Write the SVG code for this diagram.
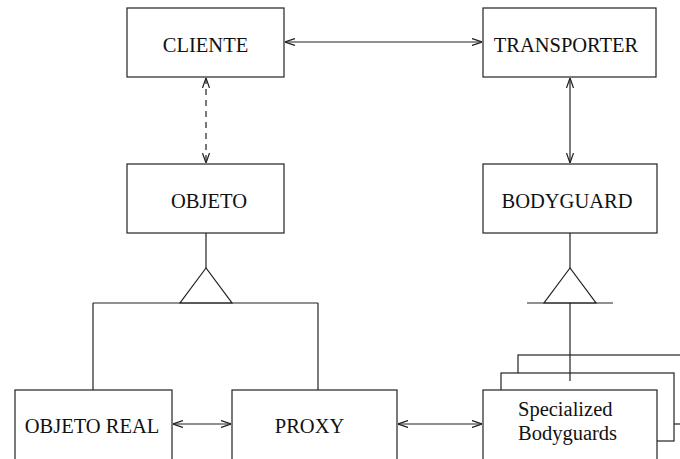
<svg xmlns="http://www.w3.org/2000/svg" width="680" height="459" viewBox="0 0 680 459">
  <style>
    .box { fill: #fff; stroke: #222; stroke-width: 1.2; }
    .lbl { font-family: "Liberation Serif", "Times New Roman", serif; font-size: 20.5px; fill: #111; }
    .ln { fill: none; stroke: #222; stroke-width: 1.2; }
    .dash { stroke-dasharray: 6 5; }
    .arr { marker-start: url(#head); marker-end: url(#head); }
  </style>
  <defs>
    <marker id="head" viewBox="0 0 10 8" refX="10" refY="4" markerWidth="10" markerHeight="8" markerUnits="userSpaceOnUse" orient="auto-start-reverse">
      <path d="M0,0.5 L10,4 L0,7.5" fill="none" stroke="#222" stroke-width="1.2"/>
    </marker>
  </defs>

  <rect width="680" height="459" fill="#fff"/>

  <!-- connectors -->
  <g id="connectors">
    <line class="ln arr" x1="285" y1="42" x2="482" y2="42"/>
    <line class="ln arr dash" x1="206" y1="78" x2="206" y2="163"/>
    <line class="ln arr" x1="570" y1="78" x2="570" y2="163"/>
    <!-- generalisation OBJETO -->
    <line class="ln" x1="206" y1="233" x2="206" y2="268"/>
    <polygon class="ln" points="206,268 180,303 232,303"/>
    <line class="ln" x1="93" y1="303" x2="318" y2="303"/>
    <line class="ln" x1="93" y1="303" x2="93" y2="390"/>
    <line class="ln" x1="318" y1="303" x2="318" y2="390"/>
    <!-- generalisation BODYGUARD -->
    <line class="ln" x1="570" y1="233" x2="570" y2="268"/>
    <polygon class="ln" points="570,268 544,303 596,303"/>
    <line class="ln" x1="527" y1="303" x2="613" y2="303"/>
    <line class="ln arr" x1="173" y1="424" x2="231" y2="424"/>
    <line class="ln arr" x1="398" y1="424" x2="482" y2="424"/>
  </g>

  <g id="cliente">
    <rect class="box" x="127" y="8" width="157" height="69"/>
    <text class="lbl" x="205.5" y="52" text-anchor="middle">CLIENTE</text>
  </g>
  <g id="transporter">
    <rect class="box" x="483" y="8" width="173" height="69"/>
    <text class="lbl" x="566" y="52" text-anchor="middle">TRANSPORTER</text>
  </g>
  <g id="objeto">
    <rect class="box" x="127" y="164" width="157" height="69"/>
    <text class="lbl" x="209" y="208" text-anchor="middle">OBJETO</text>
  </g>
  <g id="bodyguard">
    <rect class="box" x="483" y="164" width="174" height="69"/>
    <text class="lbl" x="567" y="208" text-anchor="middle">BODYGUARD</text>
  </g>
  <g id="objeto-real">
    <rect class="box" x="15" y="390" width="157" height="80"/>
    <text class="lbl" x="92" y="433" text-anchor="middle">OBJETO REAL</text>
  </g>
  <g id="proxy">
    <rect class="box" x="232" y="390" width="165" height="80"/>
    <text class="lbl" x="309.5" y="433" text-anchor="middle">PROXY</text>
  </g>
  <g id="specialized-bodyguards">
    <rect class="box" x="518" y="355" width="180" height="69"/>
    <rect class="box" x="501" y="373" width="173" height="68"/>
    <line class="ln" x1="570" y1="303" x2="570" y2="381"/>
    <rect class="box" x="483" y="390" width="174" height="80"/>
    <text class="lbl" x="518" y="416">Specialized</text>
    <text class="lbl" x="518" y="440">Bodyguards</text>
  </g>
</svg>
